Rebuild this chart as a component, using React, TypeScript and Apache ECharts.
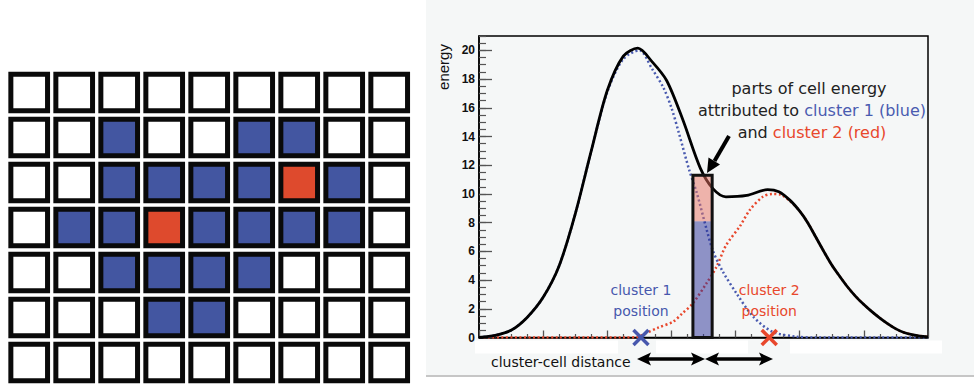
import React, { useEffect, useRef } from "react";
import * as echarts from "echarts";

// ---- left panel: calorimeter cells (0 = empty, 1 = cluster 1 / blue, 2 = cluster 2 seed / red)
const cellColumns = ["0", "1", "2", "3", "4", "5", "6", "7", "8"];
const cellRowsLabels = ["0", "1", "2", "3", "4", "5", "6"];
const cellMatrix = [
  [0, 0, 0, 0, 0, 0, 0, 0, 0],
  [0, 0, 1, 0, 0, 1, 1, 0, 0],
  [0, 0, 1, 1, 1, 1, 2, 1, 0],
  [0, 1, 1, 2, 1, 1, 1, 1, 0],
  [0, 0, 1, 1, 1, 1, 0, 0, 0],
  [0, 0, 0, 1, 1, 0, 0, 0, 0],
  [0, 0, 0, 0, 0, 0, 0, 0, 0],
];

// ---- right panel: energy vs cluster-cell distance
const totalEnergy = [
  [0, 0], [1, 0.15], [2, 0.5], [3, 1.4], [4, 2.8], [5, 5.0], [6, 8.6], [7, 13.0],
  [8, 17.2], [9, 19.6], [9.9, 20.15], [10.8, 19.2], [11.7, 17.9], [12.7, 15.2],
  [13.8, 11.8], [14.6, 10.35], [15.4, 9.8], [16.7, 9.9], [18, 10.3], [18.7, 10.15],
  [19.4, 9.55], [20, 8.8], [20.5, 8.0], [21, 7.0], [21.5, 6.0], [22, 5.05],
  [22.5, 4.25], [23, 3.5], [23.5, 2.85], [24, 2.3], [24.5, 1.8], [25, 1.35],
  [25.5, 0.95], [26, 0.6], [26.5, 0.35], [27, 0.2], [27.5, 0.1], [28, 0.05],
];
const cluster1Energy = [
  [0, 0], [1, 0.15], [2, 0.5], [3, 1.4], [4, 2.8], [5, 5.0], [6, 8.6], [7, 13.0],
  [8, 17.1], [9, 19.4], [10, 20.0], [10.8, 18.7], [11.5, 17.4], [12, 16.0],
  [12.5, 14.1], [13.1, 11.7], [13.6, 10.0], [14.2, 7.5], [14.6, 6.0], [15.2, 4.6],
  [16.1, 3.0], [17.1, 1.45], [18.3, 0.4], [19.8, 0.06], [21, 0], [28, 0],
];
const cluster2Energy = [
  [0, 0], [5, 0], [9, 0], [9.8, 0.02], [10.4, 0.3], [11.2, 0.7], [12.1, 1.1],
  [12.7, 1.7], [13.35, 2.4], [14.2, 3.8], [14.8, 4.9], [15.4, 6.4], [16.3, 7.8],
  [16.9, 8.9], [17.7, 9.8], [18.3, 10.0], [18.8, 9.95], [19.4, 9.5], [20, 8.8],
  [20.5, 8.0], [21, 7.0], [21.5, 6.0], [22, 5.05], [22.5, 4.25], [23, 3.5],
  [23.5, 2.85], [24, 2.3], [24.5, 1.8], [25, 1.35], [25.5, 0.95], [26, 0.6],
  [26.5, 0.35], [27, 0.2], [27.5, 0.1], [28, 0.05],
];
// highlighted cell: [start, end, energy from cluster 1, total energy]
const highlightedCell = [[13.34, 14.54, 8.1, 11.3]];
const clusterPositions = [10.1, 18.1];
const clusterLabels = ["cluster 1\nposition", "cluster 2\nposition"];
const clusterColors = ["#4757ad", "#e8472c"];

const BLUE = "#4a5bb0";
const RED = "#e8472c";
const HAND = "'DejaVu Sans', sans-serif";

export default function App() {
  const ref = useRef<HTMLDivElement>(null);

  useEffect(() => {
    if (!ref.current) return;
    const chart = echarts.init(ref.current, undefined, { renderer: "svg" });

    const cellData: number[][] = [];
    cellMatrix.forEach((row, r) => row.forEach((v, c) => cellData.push([c, r, v])));
    const cellFills = ["#ffffff", "#4356a1", "#de4a2d"];

    const option: any = {
      animation: false,
      backgroundColor: "#ffffff",
      grid: [
        {
          left: 479, top: 36, width: 449, height: 301.5,
          show: true, borderColor: "#000", borderWidth: 1.5, backgroundColor: "transparent",
        },
        { left: 6.7, top: 70, width: 405, height: 315 },
      ],
      xAxis: [
        {
          type: "value", gridIndex: 0, min: 0, max: 28, interval: 4,
          axisLine: { show: true, lineStyle: { color: "#000", width: 1.5 } },
          axisTick: { show: true, inside: true, length: 7, lineStyle: { color: "#555", width: 1.3 } },
          minorTick: { show: true, splitNumber: 4, length: 3.5, lineStyle: { color: "#555", width: 1.2 } },
          axisLabel: { show: false },
          splitLine: { show: false },
        },
        { type: "category", gridIndex: 1, data: cellColumns, show: false },
      ],
      yAxis: [
        {
          type: "value", gridIndex: 0, min: 0, max: 21, interval: 2, position: "left",
          axisLine: { show: true, lineStyle: { color: "#000", width: 1.5 } },
          axisTick: { show: true, inside: true, length: 13, lineStyle: { color: "#555", width: 1.3 } },
          axisLabel: {
            show: true, margin: 4, showMaxLabel: false, color: "#111",
            fontFamily: "'Liberation Sans', Arial, sans-serif", fontWeight: "bold", fontSize: 12,
          },
          splitLine: { show: false },
        },
        {
          type: "value", gridIndex: 0, min: 0, max: 21, interval: 0.5, position: "left",
          axisLine: { show: false },
          axisTick: { show: true, inside: true, length: 7, lineStyle: { color: "#555", width: 1.2 } },
          axisLabel: { show: false },
          splitLine: { show: false },
        },
        { type: "category", gridIndex: 1, data: cellRowsLabels, inverse: true, show: false },
      ],
      series: [
        {
          type: "custom", xAxisIndex: 1, yAxisIndex: 2, data: cellData,
          renderItem: (params: any, api: any) => {
            const c = api.value(0);
            const r = api.value(1);
            const k = api.value(2);
            const p = api.coord([c, r]);
            const s = api.size([1, 1]);
            const outer = s[0] - 3.3;
            const bw = 5;
            return {
              type: "rect",
              shape: { x: p[0] - outer / 2 + bw / 2, y: p[1] - outer / 2 + bw / 2, width: outer - bw, height: outer - bw },
              style: { fill: cellFills[k], stroke: "#0a0a0a", lineWidth: bw },
            };
          },
        },
        {
          type: "line", xAxisIndex: 0, yAxisIndex: 0, data: cluster2Energy, showSymbol: false, smooth: 0.3,
          lineStyle: { color: RED, width: 2.5, type: [2, 2.5] }, z: 3,
        },
        {
          type: "line", xAxisIndex: 0, yAxisIndex: 0, data: cluster1Energy, showSymbol: false, smooth: 0.3,
          lineStyle: { color: BLUE, width: 2.5, type: [2, 2.5] }, z: 4,
        },
        {
          type: "line", xAxisIndex: 0, yAxisIndex: 0, data: totalEnergy, showSymbol: false, smooth: 0.3,
          lineStyle: { color: "#000", width: 2.8 }, z: 5,
        },
        {
          type: "custom", xAxisIndex: 0, yAxisIndex: 0, data: highlightedCell, z: 6,
          renderItem: (params: any, api: any) => {
            const x0 = api.value(0), x1 = api.value(1), b = api.value(2), t = api.value(3);
            const p0 = api.coord([x0, 0]);
            const pb = api.coord([x1, b]);
            const pt = api.coord([x1, t]);
            return {
              type: "group",
              children: [
                { type: "rect", shape: { x: p0[0], y: pb[1], width: pb[0] - p0[0], height: p0[1] - pb[1] },
                  style: { fill: "rgba(40,46,150,0.5)" } },
                { type: "rect", shape: { x: p0[0], y: pt[1], width: pt[0] - p0[0], height: pb[1] - pt[1] },
                  style: { fill: "rgba(232,112,96,0.5)" } },
                { type: "rect", shape: { x: p0[0], y: pt[1], width: pt[0] - p0[0], height: p0[1] - pt[1] },
                  style: { fill: "none", stroke: "#111", lineWidth: 3 } },
              ],
            };
          },
        },
        {
          type: "custom", xAxisIndex: 0, yAxisIndex: 0, z: 7,
          data: clusterPositions.map((x, i) => [x, 0, i]),
          renderItem: (params: any, api: any) => {
            const i = api.value(2);
            const p = api.coord([api.value(0), 0]);
            const h = 7.5;
            const col = clusterColors[i];
            return {
              type: "group",
              children: [
                { type: "line", shape: { x1: p[0] - h, y1: p[1] - h, x2: p[0] + h, y2: p[1] + h }, style: { stroke: col, lineWidth: 3.5 } },
                { type: "line", shape: { x1: p[0] - h, y1: p[1] + h, x2: p[0] + h, y2: p[1] - h }, style: { stroke: col, lineWidth: 3.5 } },
                { type: "text", x: p[0], y: p[1] - 37,
                  style: { text: clusterLabels[i], fill: col, font: `14px ${HAND}`, align: "center", verticalAlign: "middle", lineHeight: 21 } },
              ],
            };
          },
        },
      ],
      graphic: [
        { type: "rect", z: -10, shape: { x: 426, y: 0, width: 548, height: 375 }, style: { fill: "#f5f7f7" } },
        { type: "rect", z: -9, shape: { x: 426, y: 375, width: 548, height: 2 }, style: { fill: "#c6c6c6" } },
        { type: "rect", z: -8, shape: { x: 475, y: 340.5, width: 143, height: 13 }, style: { fill: "#ffffff" } },
        { type: "rect", z: -8, shape: { x: 656, y: 340.5, width: 92, height: 13 }, style: { fill: "#ffffff" } },
        { type: "rect", z: -8, shape: { x: 790, y: 340.5, width: 152, height: 13 }, style: { fill: "#ffffff" } },
        { type: "text", z: 50, x: 443, y: 67, rotation: Math.PI / 2,
          style: { text: "energy", fill: "#111", font: "15px 'Liberation Sans', Arial, sans-serif", align: "center", verticalAlign: "middle" } },
        { type: "text", z: 50, x: 809, y: 88,
          style: { text: "parts of cell energy", fill: "#222", font: `16px ${HAND}`, align: "center", verticalAlign: "middle" } },
        { type: "text", z: 50, x: 812, y: 110,
          style: {
            text: "{k|attributed to }{b|cluster 1 (blue)}", align: "center", verticalAlign: "middle",
            rich: { k: { fill: "#222", fontSize: 16, fontFamily: HAND }, b: { fill: BLUE, fontSize: 16, fontFamily: HAND } },
          } },
        { type: "text", z: 50, x: 812, y: 132,
          style: {
            text: "{k|and }{r|cluster 2 (red)}", align: "center", verticalAlign: "middle",
            rich: { k: { fill: "#222", fontSize: 16, fontFamily: HAND }, r: { fill: RED, fontSize: 16, fontFamily: HAND } },
          } },
        { type: "line", z: 50, shape: { x1: 729, y1: 136, x2: 714.5, y2: 161 }, style: { stroke: "#000", lineWidth: 4 } },
        { type: "polygon", z: 50, shape: { points: [[707, 173], [720, 164.5], [708.5, 157.5]] }, style: { fill: "#000" } },
        { type: "text", z: 50, x: 491, y: 362,
          style: { text: "cluster-cell distance", fill: "#111", font: `14px ${HAND}`, align: "left", verticalAlign: "middle" } },
        { type: "line", z: 50, shape: { x1: 646, y1: 359, x2: 697, y2: 359 }, style: { stroke: "#000", lineWidth: 3.5 } },
        { type: "line", z: 50, shape: { x1: 713, y1: 359, x2: 764, y2: 359 }, style: { stroke: "#000", lineWidth: 3.5 } },
        { type: "polygon", z: 50, shape: { points: [[637, 359], [651, 352.5], [648, 359], [651, 365.5]] }, style: { fill: "#000" } },
        { type: "polygon", z: 50, shape: { points: [[705, 359], [691, 352.5], [694, 359], [691, 365.5]] }, style: { fill: "#000" } },
        { type: "polygon", z: 50, shape: { points: [[705, 359], [719, 352.5], [716, 359], [719, 365.5]] }, style: { fill: "#000" } },
        { type: "polygon", z: 50, shape: { points: [[773, 359], [759, 352.5], [762, 359], [759, 365.5]] }, style: { fill: "#000" } },
      ],
    };

    chart.setOption(option);
    return () => chart.dispose();
  }, []);

  return (
    <div
      ref={ref}
      style={{ position: "fixed", left: 0, top: 0, width: 974, height: 385, background: "#fff" }}
    />
  );
}
